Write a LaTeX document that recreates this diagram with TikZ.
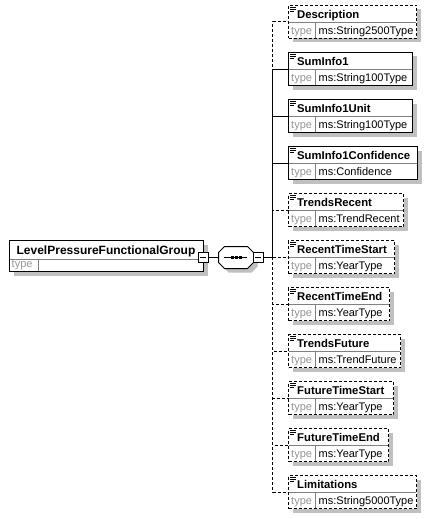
\documentclass[tikz,border=0pt]{standalone}
\usepackage{fontspec}
\setmainfont{Liberation Sans}
\definecolor{shadowc}{RGB}{192,192,192}
\definecolor{sepc}{RGB}{128,128,128}
\definecolor{typec}{RGB}{150,150,150}
\tikzset{
  box/.style={draw=black,line width=1pt,fill=white,inner sep=0pt,outer sep=0pt,anchor=north west,minimum height=33pt},
  optbox/.style={box,dash pattern=on 3pt off 2pt},
  reqbox/.style={box},
  ttl/.style={font=\fontsize{11.3}{13}\selectfont\bfseries,inner sep=0pt,anchor=base west},
  tlbl/.style={font=\fontsize{11}{13}\selectfont,text=typec,inner sep=0pt,anchor=base west},
  tval/.style={font=\fontsize{11}{13}\selectfont,text=black,inner sep=0pt,anchor=base west},
  sepl/.style={draw=sepc,line width=1pt},
  conn/.style={line width=1pt},
  optconn/.style={conn,dash pattern=on 3pt off 2pt},
  minusbox/.style={draw,line width=1pt,fill=white,minimum size=10pt,inner sep=0pt,outer sep=0pt},
  icon/.style={line width=0.8pt},
  shadowfill/.style={fill=shadowc},
}
\newcommand\elem[6]{%
  \fill[shadowfill] (292.5,#2+4.5) rectangle (#3+4.5,#2+37.5);
  \node[#6,minimum width={#3-288}] (#1) at (288.5,#2+0.5) {};
  \draw[sepl] ([xshift=0.5pt,yshift=-17pt]#1.north west) -- ([xshift=-0.5pt,yshift=-17pt]#1.north east);
  \draw[sepl] ([xshift=27pt,yshift=-17pt]#1.north west) -- ([xshift=27pt,yshift=0.5pt]#1.south west);
  \draw[icon] ([xshift=1.5pt,yshift=-2pt]#1.north west) -- ++(6pt,0pt);
  \draw[icon] ([xshift=1.5pt,yshift=-4pt]#1.north west) -- ++(6pt,0pt);
  \draw[icon] ([xshift=1.5pt,yshift=-6pt]#1.north west) -- ++(4pt,0pt);
  \node[ttl] (#1-t) at ([xshift=8.5pt,yshift=-13pt]#1.north west) {#4};
  \node[tlbl] (#1-l) at ([xshift=2.5pt,yshift=-29pt]#1.north west) {type};
  \node[tval] (#1-v) at ([xshift=30pt,yshift=-29pt]#1.north west) {#5};
}
\begin{document}
\begin{tikzpicture}[x=1pt,y=-1pt]
\useasboundingbox[fill=white] (0,0) rectangle (432,519);
% main element
\fill[shadowfill] (13.5,244.5) rectangle (207.5,275.5);
\node[draw=black,line width=1pt,fill=white,inner sep=0pt,outer sep=0pt,anchor=north west,minimum width=194pt,minimum height=31pt] (main) at (9.5,240.5) {};
\draw[sepl] ([xshift=0.5pt,yshift=-18.5pt]main.north west) -- ([xshift=-0.5pt,yshift=-18.5pt]main.north east);
\draw[sepl] ([xshift=28.5pt,yshift=-18.5pt]main.north west) -- ([xshift=28.5pt,yshift=0.5pt]main.south west);
\node[font=\fontsize{12}{14}\selectfont\bfseries,inner sep=0pt,anchor=base] (main-t) at (106,254) {LevelPressureFunctionalGroup};
\node[tlbl] (main-l) at (11.5,267) {type};
% sequence compositor
\node[minusbox] (mL) at (203,257) {};
\draw[line width=1pt] ([xshift=2pt]mL.west) -- ([xshift=-2pt]mL.east);
\fill[shadowfill] (228.5,250.5) -- (251.5,250.5) -- (257.5,256.5) -- (257.5,266.5) -- (251.5,272.5) -- (228.5,272.5) -- (222.5,266.5) -- (222.5,256.5) -- cycle;
\node[inner sep=0pt,outer sep=0pt,minimum width=35pt,minimum height=22pt] (seq) at (235.5,257.5) {};
\draw[line width=1pt,fill=white] (224.5,246.5) -- (247.5,246.5) -- (253.5,252.5) -- (253.5,262.5) -- (247.5,268.5) -- (224.5,268.5) -- (218.5,262.5) -- (218.5,252.5) -- cycle;
\node[minusbox] (mR) at (258,257) {};
\draw[line width=1pt] ([xshift=2pt]mR.west) -- ([xshift=-2pt]mR.east);
\draw[conn] (mL.east) -- (seq.west |- mL.east);
\draw[line width=1pt] (224,257) -- (247,257);
\fill (231,255.5) rectangle ++(3,3);
\fill (235,255.5) rectangle ++(3,3);
\fill (239,255.5) rectangle ++(3,3);
\coordinate (jct) at (272.5,257);
\draw[conn] (mR.east) -- (jct);
% children
\elem{desc}{5}{416}{Description}{ms:String2500Type}{optbox}
\elem{sumA}{52}{412}{SumInfo1}{ms:String100Type}{reqbox}
\elem{sumB}{99}{412}{SumInfo1Unit}{ms:String100Type}{reqbox}
\elem{sumC}{146}{417}{SumInfo1Confidence}{ms:Confidence}{reqbox}
\elem{trr}{193}{403}{TrendsRecent}{ms:TrendRecent}{optbox}
\elem{rts}{240}{394}{RecentTimeStart}{ms:YearType}{optbox}
\elem{rte}{287}{389}{RecentTimeEnd}{ms:YearType}{optbox}
\elem{trf}{334}{400}{TrendsFuture}{ms:TrendFuture}{optbox}
\elem{fts}{381}{393}{FutureTimeStart}{ms:YearType}{optbox}
\elem{fte}{428}{388}{FutureTimeEnd}{ms:YearType}{optbox}
\elem{lim}{475}{416}{Limitations}{ms:String5000Type}{optbox}
% connectors
\draw[optconn] (jct) |- (desc.west);
\draw[optconn] (jct) |- (trr.west);
\draw[optconn] (jct) |- (rts.west);
\draw[optconn] (jct) |- (rte.west);
\draw[optconn] (jct) |- (trf.west);
\draw[optconn] (jct) |- (fts.west);
\draw[optconn] (jct) |- (fte.west);
\draw[optconn] (jct) |- (lim.west);
\draw[conn] (jct) |- (sumA.west);
\draw[conn] (jct) |- (sumB.west);
\draw[conn] (jct) |- (sumC.west);
\end{tikzpicture}
\end{document}
